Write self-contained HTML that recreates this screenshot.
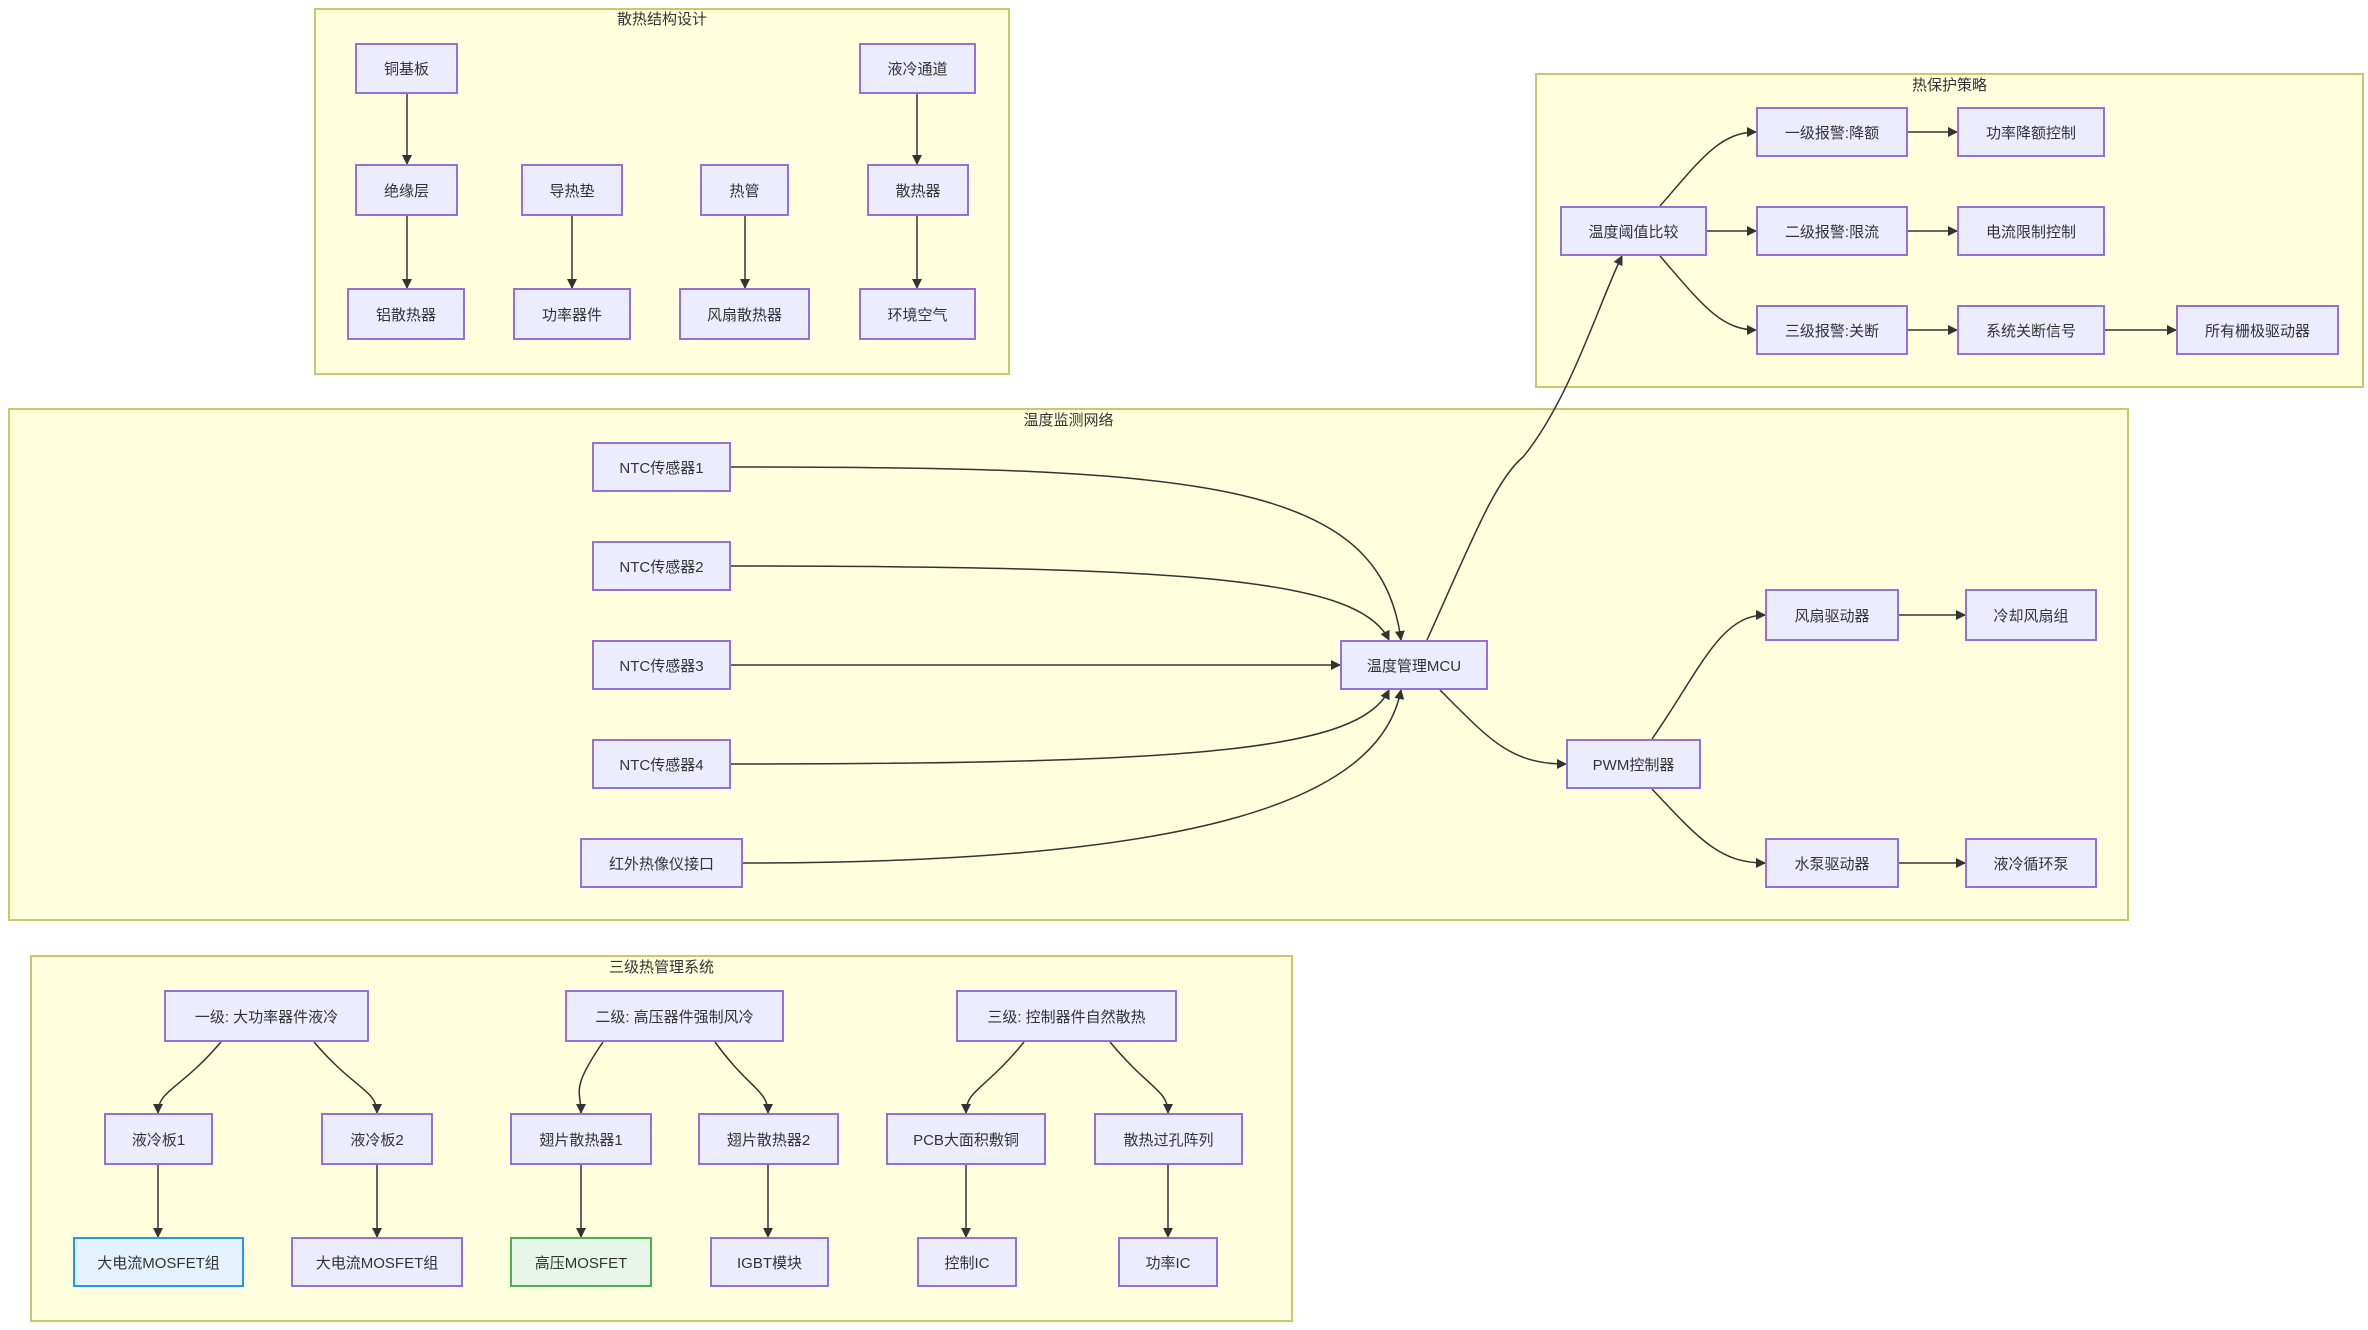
<!DOCTYPE html>
<html><head><meta charset="utf-8"><style>
body{margin:0;width:2368px;height:1330px;background:#fff;position:relative;overflow:hidden;font-family:"Liberation Sans","Noto Sans CJK SC",sans-serif;}
.g{position:absolute;background:#ffffde;border:2px solid #c9c96a;box-sizing:border-box;}
.t{position:absolute;font-size:15px;color:#333;text-align:center;}
.n{position:absolute;background:#ececff;border:2px solid #9370db;box-sizing:border-box;display:flex;align-items:center;justify-content:center;font-size:15px;color:#333;white-space:nowrap;}
svg{position:absolute;left:0;top:0;}
</style></head><body>
<div class="g" style="left:314px;top:8px;width:696px;height:367px"></div>
<div class="t" style="left:314px;top:8px;width:696px">散热结构设计</div>
<div class="g" style="left:1535px;top:73px;width:829px;height:315px"></div>
<div class="t" style="left:1535px;top:74px;width:829px">热保护策略</div>
<div class="g" style="left:8px;top:408px;width:2121px;height:513px"></div>
<div class="t" style="left:8px;top:409px;width:2121px">温度监测网络</div>
<div class="g" style="left:30px;top:955px;width:1263px;height:367px"></div>
<div class="t" style="left:30px;top:956px;width:1263px">三级热管理系统</div>

<svg width="2368" height="1330" viewBox="0 0 2368 1330">
<defs><marker id="a" markerWidth="10" markerHeight="10" refX="9" refY="5" orient="auto" markerUnits="userSpaceOnUse"><path d="M0,0L10,5L0,10z" fill="#333"/></marker></defs>
<g fill="none" stroke="#333" stroke-width="1.5" marker-end="url(#a)">
<path d="M407 94V164"/><path d="M917 94V164"/>
<path d="M407 216V288"/><path d="M572 216V288"/><path d="M745 216V288"/><path d="M917 216V288"/>
<path d="M1707 231H1756"/><path d="M1908 132H1957"/><path d="M1908 231H1957"/><path d="M1908 330H1957"/><path d="M2105 330H2176"/>
<path d="M1660 206C1700 160 1720 132 1756 132"/>
<path d="M1660 256C1700 302 1720 330 1756 330"/>
<path d="M731 467C1200 467 1380 480 1401 640"/>
<path d="M731 566C1200 566 1360 580 1389 640"/>
<path d="M731 665H1340"/>
<path d="M731 764C1200 764 1360 750 1389 690"/>
<path d="M743 863C1200 863 1380 800 1401 690"/>
<path d="M1427 640C1470 545 1495 480 1523 457C1570 400 1600 300 1622 256"/>
<path d="M1440 690C1490 740 1510 764 1566 764"/>
<path d="M1652 739C1700 670 1720 615 1765 615"/>
<path d="M1652 789C1700 840 1720 863 1765 863"/>
<path d="M1899 615H1965"/><path d="M1899 863H1965"/>
<path d="M221 1042C180 1090 158 1090 158 1113"/>
<path d="M314 1042C355 1090 377 1090 377 1113"/>
<path d="M603 1042C570 1090 581 1090 581 1113"/>
<path d="M715 1042C750 1090 768 1090 768 1113"/>
<path d="M1024 1042C985 1090 966 1090 966 1113"/>
<path d="M1110 1042C1150 1090 1168 1090 1168 1113"/>
<path d="M158 1165V1237"/><path d="M377 1165V1237"/><path d="M581 1165V1237"/><path d="M768 1165V1237"/><path d="M966 1165V1237"/><path d="M1168 1165V1237"/>
</g></svg>

<div class="n" style="left:355px;top:43px;width:103px;height:51px">铜基板</div>
<div class="n" style="left:859px;top:43px;width:117px;height:51px">液冷通道</div>
<div class="n" style="left:355px;top:164px;width:103px;height:52px">绝缘层</div>
<div class="n" style="left:521px;top:164px;width:102px;height:52px">导热垫</div>
<div class="n" style="left:700px;top:164px;width:89px;height:52px">热管</div>
<div class="n" style="left:867px;top:164px;width:102px;height:52px">散热器</div>
<div class="n" style="left:347px;top:288px;width:118px;height:52px">铝散热器</div>
<div class="n" style="left:513px;top:288px;width:118px;height:52px">功率器件</div>
<div class="n" style="left:679px;top:288px;width:131px;height:52px">风扇散热器</div>
<div class="n" style="left:859px;top:288px;width:117px;height:52px">环境空气</div>

<div class="n" style="left:1560px;top:206px;width:147px;height:50px">温度阈值比较</div>
<div class="n" style="left:1756px;top:107px;width:152px;height:50px">一级报警:降额</div>
<div class="n" style="left:1756px;top:206px;width:152px;height:50px">二级报警:限流</div>
<div class="n" style="left:1756px;top:305px;width:152px;height:50px">三级报警:关断</div>
<div class="n" style="left:1957px;top:107px;width:148px;height:50px">功率降额控制</div>
<div class="n" style="left:1957px;top:206px;width:148px;height:50px">电流限制控制</div>
<div class="n" style="left:1957px;top:305px;width:148px;height:50px">系统关断信号</div>
<div class="n" style="left:2176px;top:305px;width:163px;height:50px">所有栅极驱动器</div>

<div class="n" style="left:592px;top:442px;width:139px;height:50px">NTC传感器1</div>
<div class="n" style="left:592px;top:541px;width:139px;height:50px">NTC传感器2</div>
<div class="n" style="left:592px;top:640px;width:139px;height:50px">NTC传感器3</div>
<div class="n" style="left:592px;top:739px;width:139px;height:50px">NTC传感器4</div>
<div class="n" style="left:580px;top:838px;width:163px;height:50px">红外热像仪接口</div>
<div class="n" style="left:1340px;top:640px;width:148px;height:50px">温度管理MCU</div>
<div class="n" style="left:1566px;top:739px;width:135px;height:50px">PWM控制器</div>
<div class="n" style="left:1765px;top:589px;width:134px;height:52px">风扇驱动器</div>
<div class="n" style="left:1965px;top:589px;width:132px;height:52px">冷却风扇组</div>
<div class="n" style="left:1765px;top:838px;width:134px;height:50px">水泵驱动器</div>
<div class="n" style="left:1965px;top:838px;width:132px;height:50px">液冷循环泵</div>

<div class="n" style="left:164px;top:990px;width:205px;height:52px">一级: 大功率器件液冷</div>
<div class="n" style="left:565px;top:990px;width:219px;height:52px">二级: 高压器件强制风冷</div>
<div class="n" style="left:956px;top:990px;width:221px;height:52px">三级: 控制器件自然散热</div>
<div class="n" style="left:104px;top:1113px;width:109px;height:52px">液冷板1</div>
<div class="n" style="left:321px;top:1113px;width:112px;height:52px">液冷板2</div>
<div class="n" style="left:510px;top:1113px;width:142px;height:52px">翅片散热器1</div>
<div class="n" style="left:698px;top:1113px;width:141px;height:52px">翅片散热器2</div>
<div class="n" style="left:886px;top:1113px;width:160px;height:52px">PCB大面积敷铜</div>
<div class="n" style="left:1094px;top:1113px;width:149px;height:52px">散热过孔阵列</div>
<div class="n" style="left:73px;top:1237px;width:171px;height:50px;background:#e3f2fd;border-color:#2196f3">大电流MOSFET组</div>
<div class="n" style="left:291px;top:1237px;width:172px;height:50px">大电流MOSFET组</div>
<div class="n" style="left:510px;top:1237px;width:142px;height:50px;background:#e8f5e9;border-color:#4caf50">高压MOSFET</div>
<div class="n" style="left:710px;top:1237px;width:119px;height:50px">IGBT模块</div>
<div class="n" style="left:917px;top:1237px;width:100px;height:50px">控制IC</div>
<div class="n" style="left:1118px;top:1237px;width:100px;height:50px">功率IC</div>
</body></html>
